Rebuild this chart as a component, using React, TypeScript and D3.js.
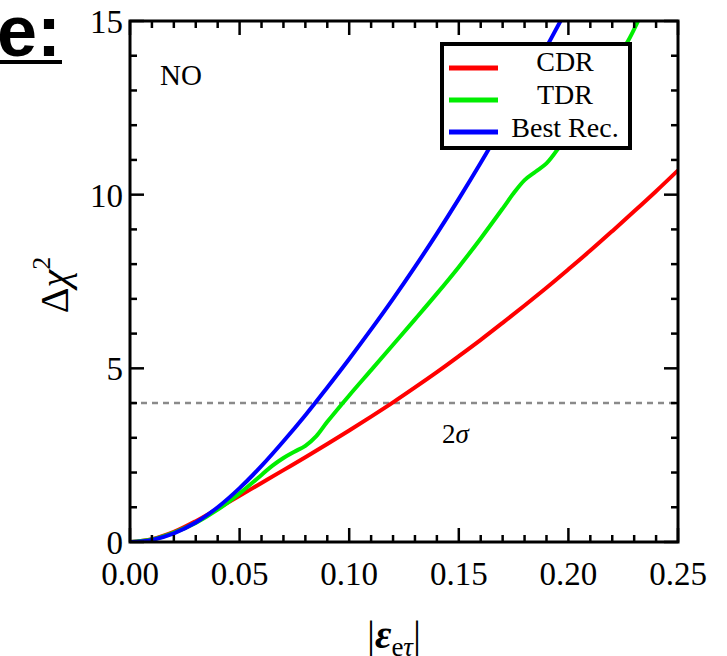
import React from "react";
import * as d3 from "d3";

// |eps_etau| grid and the Delta chi^2 of each detector configuration
const epsCDR = [0, 0.01, 0.02, 0.03, 0.04, 0.05, 0.06, 0.07, 0.08, 0.09, 0.1, 0.11, 0.12, 0.13, 0.14, 0.15, 0.16, 0.17, 0.18, 0.19, 0.2, 0.21, 0.22, 0.23, 0.24, 0.25];
const chiCDR = [0, 0.08, 0.29, 0.6, 0.96, 1.33, 1.7, 2.07, 2.44, 2.82, 3.21, 3.61, 4.02, 4.45, 4.89, 5.35, 5.82, 6.31, 6.81, 7.32, 7.85, 8.39, 8.95, 9.52, 10.1, 10.7];

const epsTDR = [0, 0.01, 0.02, 0.03, 0.04, 0.05, 0.06, 0.065, 0.07, 0.075, 0.08, 0.085, 0.09, 0.1, 0.11, 0.12, 0.13, 0.14, 0.15, 0.16, 0.17, 0.175, 0.18, 0.185, 0.19, 0.195, 0.2, 0.21, 0.22, 0.227, 0.2318];
const chiTDR = [0, 0.07, 0.27, 0.55, 0.93, 1.4, 1.93, 2.2, 2.42, 2.6, 2.77, 3.05, 3.46, 4.22, 4.95, 5.68, 6.41, 7.15, 7.92, 8.74, 9.6, 10.04, 10.42, 10.66, 10.9, 11.3, 11.8, 12.75, 13.72, 14.4, 15.0];

const epsBest = [0, 0.01, 0.02, 0.03, 0.04, 0.05, 0.06, 0.07, 0.08, 0.09, 0.1, 0.11, 0.12, 0.13, 0.14, 0.15, 0.16, 0.17, 0.18, 0.19, 0.1964];
const chiBest = [0, 0.06, 0.25, 0.56, 1.0, 1.55, 2.19, 2.9, 3.65, 4.45, 5.27, 6.12, 7.0, 7.92, 8.88, 9.88, 10.92, 12.0, 13.11, 14.25, 15.0];

const seriesNames = ["CDR", "TDR", "Best Rec."];
const seriesColors = ["#ff0000", "#00ee00", "#0000ff"];

const xMajorTicks = [0, 0.05, 0.1, 0.15, 0.2, 0.25];
const xTickLabels = ["0.00", "0.05", "0.10", "0.15", "0.20", "0.25"];
const yMajorTicks = [0, 5, 10, 15];
const yTickLabels = ["0", "5", "10", "15"];
const sigmaLevel = 4; // 2 sigma threshold

const W = 727;
const H = 656;
const left = 130, right = 678, top = 21, bottom = 542;

export default function App() {
  const x = d3.scaleLinear().domain([0, 0.25]).range([left, right]);
  const y = d3.scaleLinear().domain([0, 15]).range([bottom, top]);

  const line = d3
    .line<[number, number]>()
    .x((d) => x(d[0]))
    .y((d) => y(d[1]))
    .curve(d3.curveCatmullRom.alpha(0.5));

  const series = [
    { xs: epsCDR, ys: chiCDR },
    { xs: epsTDR, ys: chiTDR },
    { xs: epsBest, ys: chiBest },
  ];

  const xMinor = d3.range(0, 26).map((i) => i * 0.01);
  const yMinor = d3.range(0, 16);

  const serif = "'Liberation Serif', 'Times New Roman', serif";
  const tickMajor = 14;
  const tickMinor = 7;

  return (
    <svg
      width={W}
      height={H}
      style={{ position: "absolute", left: 0, top: 0, background: "#fff" }}
      fontFamily={serif}
    >
      <defs>
        <clipPath id="plotArea">
          <rect x={left} y={top} width={right - left} height={bottom - top} />
        </clipPath>
      </defs>

      {/* heading fragment */}
      <text x={-3} y={56} fontFamily="'Liberation Sans', Arial, sans-serif" fontWeight="bold" fontSize={72}>
        e:
      </text>
      <rect x={0} y={60} width={62} height={4} fill="#000" />

      {/* 2 sigma reference */}
      <line
        x1={left}
        x2={right}
        y1={y(sigmaLevel)}
        y2={y(sigmaLevel)}
        stroke="#8a8a8a"
        strokeWidth={2.5}
        strokeDasharray="6 5"
      />
      <text x={442} y={443} fontSize={27}>
        2<tspan fontStyle="italic">σ</tspan>
      </text>

      {/* curves */}
      <g clipPath="url(#plotArea)">
        {series.map((s, i) => (
          <path
            key={seriesNames[i]}
            d={line(s.xs.map((v, k) => [v, s.ys[k]] as [number, number])) || ""}
            fill="none"
            stroke={seriesColors[i]}
            strokeWidth={4}
            strokeLinejoin="round"
          />
        ))}
      </g>

      <text x={160} y={85} fontSize={29}>NO</text>

      {/* legend */}
      <rect x={442} y={44} width={188} height={104} fill="#fff" stroke="#000" strokeWidth={4} />
      {seriesNames.map((name, i) => (
        <g key={name}>
          <line x1={449} x2={498} y1={68 + i * 32} y2={68 + i * 32} stroke={seriesColors[i]} strokeWidth={5} />
          <text x={565} y={71 + i * 32.8} fontSize={28} textAnchor="middle">
            {name}
          </text>
        </g>
      ))}

      {/* frame */}
      <rect x={left} y={top} width={right - left} height={bottom - top} fill="none" stroke="#000" strokeWidth={3} />

      {/* x ticks, bottom and top */}
      {xMinor.map((v, i) => {
        const len = i % 5 === 0 ? tickMajor : tickMinor;
        return (
          <g key={"xt" + i}>
            <line x1={x(v)} x2={x(v)} y1={bottom} y2={bottom - len} stroke="#000" strokeWidth={2.5} />
            <line x1={x(v)} x2={x(v)} y1={top} y2={top + len} stroke="#000" strokeWidth={2.5} />
          </g>
        );
      })}
      {/* y ticks, left and right */}
      {yMinor.map((v, i) => {
        const len = i % 5 === 0 ? tickMajor : tickMinor;
        return (
          <g key={"yt" + i}>
            <line x1={left} x2={left + len} y1={y(v)} y2={y(v)} stroke="#000" strokeWidth={2.5} />
            <line x1={right} x2={right - len} y1={y(v)} y2={y(v)} stroke="#000" strokeWidth={2.5} />
          </g>
        );
      })}

      {xMajorTicks.map((v, i) => (
        <text key={"xl" + i} x={x(v)} y={585} fontSize={33} textAnchor="middle">
          {xTickLabels[i]}
        </text>
      ))}
      {yMajorTicks.map((v, i) => (
        <text key={"yl" + i} x={123} y={y(v) + 12} fontSize={33} textAnchor="end">
          {yTickLabels[i]}
        </text>
      ))}

      {/* axis titles */}
      <text transform="translate(68,285) rotate(-90)" fontSize={40} textAnchor="middle">
        Δ<tspan fontStyle="italic">χ</tspan>
        <tspan fontSize={26} dy={-18}>2</tspan>
      </text>
      <text x={394} y={648} fontSize={40} textAnchor="middle">
        |<tspan fontStyle="italic" fontWeight="bold">ε</tspan>
        <tspan fontSize={27} dy={8}>e</tspan>
        <tspan fontSize={27} fontStyle="italic">τ</tspan>
        <tspan dy={-8}>|</tspan>
      </text>
    </svg>
  );
}
